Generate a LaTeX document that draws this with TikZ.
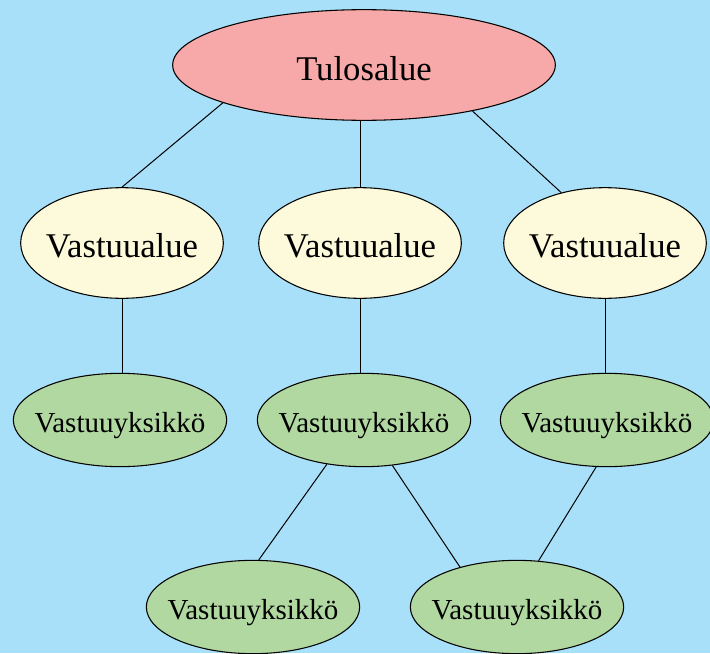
\documentclass[tikz,border=0pt]{standalone}
\usepackage{fontspec}
\setmainfont{Liberation Serif}
\usepackage{tikz}
\usetikzlibrary{positioning, shapes.geometric, calc}
\definecolor{taustasin}{RGB}{168,224,250}
\definecolor{tulospun}{RGB}{247,168,168}
\definecolor{aluekelt}{RGB}{252,250,218}
\definecolor{yksvihr}{RGB}{176,216,160}
\tikzset{
    solmu/.style={ellipse, draw=black, line width=0.8pt, inner xsep=-14pt, inner ysep=0pt},
    tulos/.style={solmu, fill=tulospun, minimum width=287pt, minimum height=83pt,
        font=\fontsize{26}{30}\selectfont, text height=22.5pt, text depth=0pt},
    alue/.style={solmu, fill=aluekelt, minimum width=152pt, minimum height=83pt,
        font=\fontsize{26}{30}\selectfont, text height=21pt, text depth=0pt},
    yksikko/.style={solmu, fill=yksvihr, minimum width=160pt, minimum height=70pt,
        font=\fontsize{21.75}{26}\selectfont, text height=18pt, text depth=0pt},
    yhteys/.style={draw=black, line width=0.75pt},
}

\begin{document}
\begin{tikzpicture}[x=0.75pt, y=-0.75pt]
    \useasboundingbox (0,0) rectangle (710,653);
    \clip (0,0) rectangle (710,653);
    \fill[taustasin] (0,0) rectangle (710,653);

    \node[tulos] (t) at (364,65) {Tulosalue};

    \node[alue] (vaL) at (122,243) {Vastuualue};
    \node[alue] (vaM) at (360,243) {Vastuualue};
    \node[alue] (vaR) at (605,243) {Vastuualue};

    \node[yksikko] (vyL) at (120,420) {Vastuuyksikkö};
    \node[yksikko] (vyM) at (364,420) {Vastuuyksikkö};
    \node[yksikko] (vyR) at (607,420) {Vastuuyksikkö};

    \node[yksikko] (vbL) at (253,607) {Vastuuyksikkö};
    \node[yksikko] (vbR) at (517,607) {Vastuuyksikkö};

    \draw[yhteys] (t.195.5) -- (vaL.north);
    \draw[yhteys] (vaM.north |- t.south) -- (vaM.north);
    \draw[yhteys] (t.337.8) -- (vaR.131.8);

    \draw[yhteys] (vaL.south) -- (vaL.south |- vyL.north);
    \draw[yhteys] (vaM.south) -- (vaM.south |- vyM.north);
    \draw[yhteys] (vaR.south) -- (vaR.south |- vyR.north);

    \draw[yhteys] (vyM.230.9) -- (vbL.83);
    \draw[yhteys] (vyM.302) -- (vbR.145.1);
    \draw[yhteys] (vyR.257.1) -- (vbR.65.5);
\end{tikzpicture}
\end{document}
